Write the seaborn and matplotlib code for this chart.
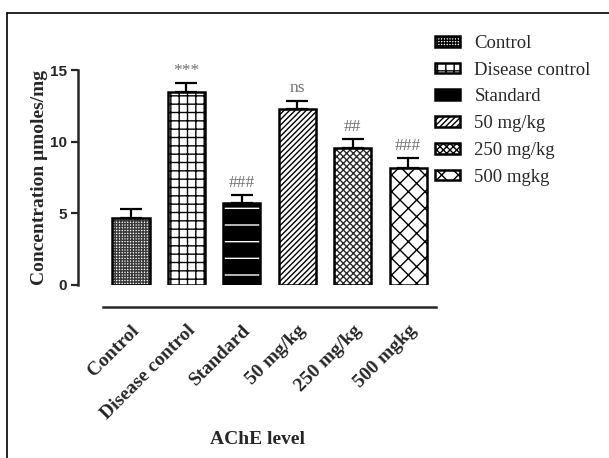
import numpy as np
import pandas as pd
import seaborn as sns
import matplotlib.pyplot as plt
from matplotlib.lines import Line2D
from matplotlib.patches import Rectangle

# values
groups = ["Control", "Disease control", "Standard", "50 mg/kg", "250 mg/kg", "500 mgkg"]
means = [4.65, 13.49, 5.70, 12.26, 9.58, 8.14]
sems = [0.63, 0.58, 0.56, 0.60, 0.61, 0.70]
marks = ["", "***", "###", "ns", "##", "###"]

hatches = ["++++++", "++", "-", "//////", "xxxxx", "xx"]
hatch_colors = ["#3a3a3a", "black", "white", "black", "#2a2a2a", "black"]
faces = ["white", "white", "black", "white", "white", "white"]

sns.set_style("white")
plt.rcParams["hatch.linewidth"] = 1.0

df = pd.DataFrame({"group": groups, "value": means})

fig = plt.figure(figsize=(6.09, 4.58), dpi=100)
ax = fig.add_axes([78 / 609, 1 - 285 / 458, (437 - 78) / 609, (285 - 70) / 458])

sns.barplot(data=df, x="group", y="value", order=groups, color="white",
            width=0.67, edgecolor="black", linewidth=1.5, errorbar=None, ax=ax)

bars = ax.patches[:len(groups)]
for bar, h, hc, fc in zip(bars, hatches, hatch_colors, faces):
    bar.set_hatch(h)
    bar.set_facecolor(fc)
    bar.set_edgecolor(hc)
    bar.set_linewidth(0)
    # black outline on top of the hatched fill
    ax.add_patch(Rectangle((bar.get_x(), bar.get_y()), bar.get_width(), bar.get_height(),
                           fill=False, edgecolor="black", linewidth=1.8,
                           zorder=bar.get_zorder() + 0.1))

# upper error bars only
x = np.arange(len(groups))
ax.errorbar(x, means, yerr=[np.zeros(len(sems)), sems], fmt="none", ecolor="black",
            elinewidth=1.6, capsize=8, capthick=1.6, zorder=1)

for xi, m, s, t in zip(x, means, sems, marks):
    if t:
        ax.text(xi, m + s + 0.3, t, ha="center", va="bottom", fontsize=12.5,
                family="Liberation Serif", color="#707070", clip_on=False)

ax.set_ylim(0, 15)
ax.set_xlim(-0.957, 5.52)
ax.set_yticks([0, 5, 10, 15])
ax.tick_params(axis="y", left=True, length=5, width=1.6, labelsize=11, pad=3)
for lab in ax.get_yticklabels():
    lab.set_family("Liberation Sans")
    lab.set_fontweight("bold")

sns.despine(ax=ax, top=True, right=True)
ax.spines["left"].set_linewidth(1.8)
ax.spines["bottom"].set_linewidth(1.8)
ax.spines["bottom"].set_position(("outward", 16))
ax.spines["bottom"].set_bounds(-0.5, 5.5)

ax.tick_params(axis="x", bottom=False, pad=7)
ax.set_xticks(x)
ax.set_xticklabels(groups, rotation=45, ha="right", rotation_mode="anchor",
                   fontsize=14, fontweight="bold", family="Liberation Serif")

ax.set_ylabel("Concentration \u03bcmoles/mg", fontsize=14, fontweight="bold",
              family="Liberation Serif", labelpad=1)
ax.set_xlabel("AChE level", fontsize=14, fontweight="bold", family="Liberation Serif",
              labelpad=6)

leg = ax.legend(handles=list(bars), labels=groups, loc="upper left",
                bbox_to_anchor=(418 / 609, 1 - 18 / 458), bbox_transform=fig.transFigure,
                frameon=False, prop={"family": "Liberation Serif", "size": 13.5},
                handlelength=1.35, handleheight=0.5, labelspacing=0.52, handletextpad=0.75)
for h in leg.legend_handles:
    h.set_linewidth(1.8)
    h.set_edgecolor("black")

# frame lines of the cropped figure
fig.add_artist(Line2D([7 / 609, 7 / 609], [0, 1 - 13 / 458], color="black", lw=1.2))
fig.add_artist(Line2D([7 / 609, 1], [1 - 13 / 458, 1 - 13 / 458], color="black", lw=1.2))

fig.savefig("out.png", dpi=100)
